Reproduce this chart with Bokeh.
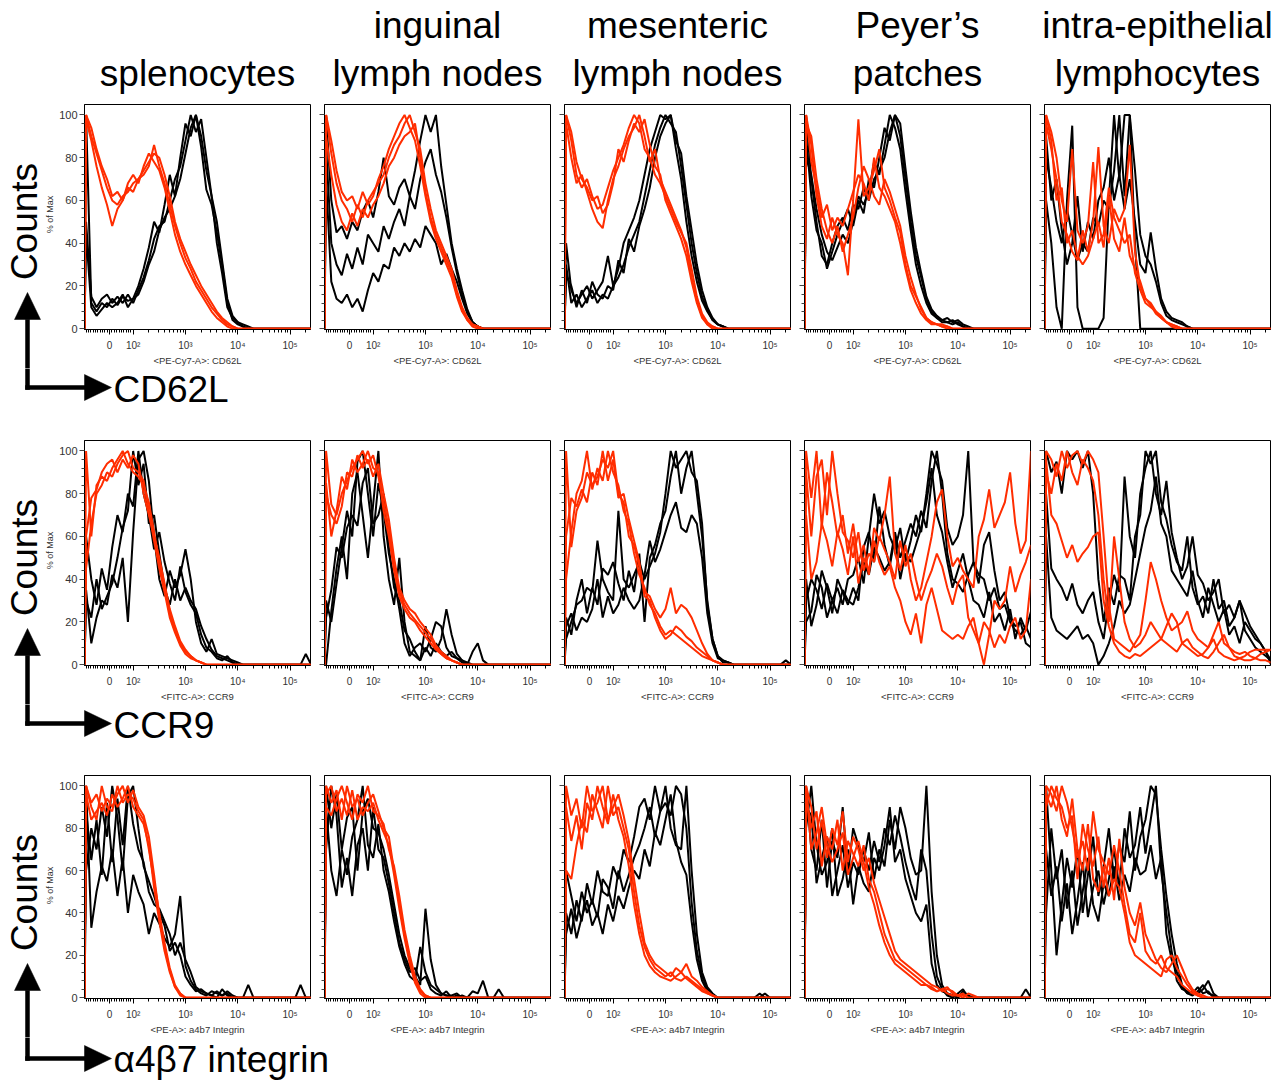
import math
from bokeh.plotting import figure
from bokeh.layouts import column, row
from bokeh.models import Range1d, FixedTicker
from bokeh.core.properties import value
from bokeh.embed import file_html
from bokeh.resources import INLINE

# ---------------------------------------------------------------- data
# histogram bin positions on the FlowJo biexponential display axis (decades)
U = [1.1, 1.2, 1.3, 1.4, 1.5, 1.6, 1.7, 1.8, 1.9, 2.0,
     2.1, 2.2, 2.3, 2.4, 2.5, 2.6, 2.7, 2.8, 2.9, 3.0,
     3.1, 3.2, 3.3, 3.4, 3.5, 3.6, 3.7, 3.8, 3.9, 4.0,
     4.1, 4.2, 4.3, 4.4, 4.5, 4.6, 4.7, 4.8, 4.9, 5.0,
     5.1, 5.2, 5.3, 5.4]
U_EDGE = 1.07
X_RANGE = (1.07, 5.39)
Y_RANGE = (-0.4, 104.9)

TISSUES = [["splenocytes"], ["inguinal", "lymph nodes"], ["mesenteric", "lymph nodes"],
           ["Peyer\u2019s", "patches"], ["intra-epithelial", "lymphocytes"]]
MARKERS = ["CD62L", "CCR9", "\u03b14\u03b27 integrin"]
CHANNELS = ["<PE-Cy7-A>: CD62L", "<FITC-A>: CCR9", "<PE-A>: a4b7 Integrin"]
Y_LABEL = "% of Max"
ROW_LABEL = "Counts"
X_TICKS = [1.55, 2.0, 3.0, 4.0, 5.0]
X_TICK_LABELS = ["0", "10\u00b2", "10\u00b3", "10\u2074", "10\u2075"]
Y_TICKS = [0, 20, 40, 60, 80, 100]

# ---- CD62L
CD62L_SPL_BLACK = [
    [100,12,8,12,10,14,11,15,13,14, 20,28,38,50,45,58,72,62,80,96, 90,100,85,65,58,45,30,12,4,2, 1,0,0,0,0,0,0,0,0,0,0,0,0,0],
    [50,15,10,14,16,12,15,12,16,12, 18,24,32,42,48,50,60,70,76,88, 100,92,98,80,62,50,32,14,6,3, 2,1,0,0,0,0,0,0,0,0,0,0,0,0],
    [45,10,6,9,12,10,12,16,10,14, 16,22,30,36,46,52,56,62,70,82, 94,100,90,74,62,40,26,10,5,3, 1,0,0,0,0,0,0,0,0,0,0,0,0,0],
]
CD62L_SPL_RED = [
    [100,90,82,74,66,60,58,62,64,68, 70,74,78,82,80,72,62,50,42,36, 30,25,20,16,12,8,5,3,1,0, 0,0,0,0,0,0,0,0,0,0,0,0,0,0],
    [98,88,76,66,58,48,56,60,66,64, 70,72,76,86,76,68,58,48,40,33, 28,22,18,14,10,7,4,2,1,0, 0,0,0,0,0,0,0,0,0,0,0,0,0,0],
    [100,94,84,76,70,62,64,60,68,72, 68,76,82,78,74,66,55,44,36,30, 25,20,16,12,8,5,3,1,0,0, 0,0,0,0,0,0,0,0,0,0,0,0,0,0],
]
CD62L_ILN_BLACK = [
    [100,60,45,48,42,50,46,55,60,52, 64,80,62,58,66,70,62,74,88,100, 92,100,76,58,40,28,18,9,3,1, 0,0,0,0,0,0,0,0,0,0,0,0,0,0],
    [85,40,30,25,35,28,38,30,44,40, 36,48,42,50,56,48,62,56,70,78, 84,72,64,52,38,26,16,8,3,1, 0,0,0,0,0,0,0,0,0,0,0,0,0,0],
    [70,22,14,12,16,10,14,8,18,26, 22,30,28,38,34,40,36,42,38,48, 44,40,30,35,28,22,14,7,3,1, 0,0,0,0,0,0,0,0,0,0,0,0,0,0],
]
CD62L_ILN_RED = [
    [100,82,68,60,56,50,58,52,60,64, 68,72,80,86,90,96,100,92,84,68, 56,46,40,34,28,18,10,5,2,1, 0,0,0,0,0,0,0,0,0,0,0,0,0,0],
    [90,72,58,50,46,54,48,56,52,58, 62,68,76,80,86,90,92,96,80,64, 52,44,38,32,26,16,9,4,2,1, 0,0,0,0,0,0,0,0,0,0,0,0,0,0],
    [100,88,74,64,60,62,56,64,58,62, 70,76,84,90,96,100,94,88,76,62, 50,42,36,30,24,15,8,4,1,0, 0,0,0,0,0,0,0,0,0,0,0,0,0,0],
]
CD62L_MLN_BLACK = [
    [40,18,12,16,20,14,18,22,34,20, 28,40,46,52,60,72,84,92,100,98, 100,84,70,50,34,22,13,8,4,2, 1,0,0,0,0,0,0,0,0,0,0,0,0,0],
    [30,12,16,10,14,18,12,16,14,20, 24,30,38,44,50,62,74,86,94,100, 96,92,76,58,40,26,15,9,4,2, 1,0,0,0,0,0,0,0,0,0,0,0,0,0],
    [25,20,10,18,12,22,16,14,20,18, 32,26,42,36,48,56,66,80,90,96, 100,88,82,62,46,30,18,10,5,2, 1,0,0,0,0,0,0,0,0,0,0,0,0,0],
]
CD62L_MLN_RED = [
    [100,88,72,66,70,62,56,58,66,74, 80,86,94,100,96,84,80,72,68,62, 56,50,45,40,28,15,7,3,1,0, 0,0,0,0,0,0,0,0,0,0,0,0,0,0],
    [96,80,68,72,64,56,50,47,60,70, 76,84,90,94,100,90,78,84,70,64, 58,52,46,38,24,13,6,2,1,0, 0,0,0,0,0,0,0,0,0,0,0,0,0,0],
    [100,92,78,70,66,60,62,54,58,68, 84,78,88,96,92,98,86,76,72,60, 54,48,42,34,22,12,5,2,0,0, 0,0,0,0,0,0,0,0,0,0,0,0,0,0],
]
CD62L_PP_BLACK = [
    [100,70,50,34,30,40,48,52,46,58, 56,66,60,70,74,80,92,100,96,75, 55,38,26,15,9,6,4,5,3,4, 2,1,0,0,0,0,0,0,0,0,0,0,0,0],
    [90,62,46,40,28,36,44,50,56,48, 60,54,70,66,80,94,88,100,90,70, 50,34,24,14,8,5,4,3,2,3, 1,0,0,0,0,0,0,0,0,0,0,0,0,0],
    [80,72,56,44,36,32,38,44,40,50, 62,58,64,78,72,86,100,94,84,64, 46,30,20,12,7,5,3,3,4,2, 1,0,0,0,0,0,0,0,0,0,0,0,0,0],
]
CD62L_PP_RED = [
    [100,86,62,48,42,52,44,40,25,60, 98,62,66,74,84,66,60,52,45,30, 20,15,10,5,3,2,2,1,0,0, 0,0,0,0,0,0,0,0,0,0,0,0,0,0],
    [96,90,70,56,46,40,48,36,44,52, 66,76,70,62,58,70,64,56,48,34, 24,16,9,5,3,2,1,1,0,0, 0,0,0,0,0,0,0,0,0,0,0,0,0,0],
    [100,78,66,52,58,46,52,48,56,64, 72,68,60,80,66,62,56,50,40,28, 18,12,7,4,2,2,1,0,0,0, 0,0,0,0,0,0,0,0,0,0,0,0,0,0],
]
CD62L_IEL_BLACK = [
    [60,40,10,0,60,95,10,0,0,0, 0,5,60,100,70,100,100,40,0,0, 0,0,0,0,0,0,0,0,0,0, 0,0,0,0,0,0,0,0,0,0,0,0,0,0],
    [90,60,70,46,30,40,62,36,50,42, 60,66,80,60,72,56,70,50,30,26, 45,28,14,8,5,4,3,1,0,0, 0,0,0,0,0,0,0,0,0,0,0,0,0,0],
    [80,66,50,40,56,44,32,40,36,52, 48,60,56,74,100,62,100,74,44,34, 30,22,12,6,4,3,2,1,0,0, 0,0,0,0,0,0,0,0,0,0,0,0,0,0],
]
CD62L_IEL_RED = [
    [100,92,80,60,50,84,46,40,48,78, 40,44,66,52,46,40,44,26,18,12, 10,8,5,3,2,1,0,0,0,0, 0,0,0,0,0,0,0,0,0,0,0,0,0,0],
    [96,84,70,50,44,36,32,46,36,50, 85,48,40,56,50,56,86,36,20,14, 11,7,5,3,1,0,0,0,0,0, 0,0,0,0,0,0,0,0,0,0,0,0,0,0],
    [100,88,60,66,40,46,34,30,34,42, 50,38,62,42,36,52,34,28,22,14, 12,8,6,3,2,1,0,0,0,0, 0,0,0,0,0,0,0,0,0,0,0,0,0,0],
]

# ---- CCR9
CCR9_SPL_BLACK = [
    [35,10,22,30,28,42,36,50,20,62, 96,100,86,60,40,32,44,36,42,54, 40,20,10,6,12,5,4,3,2,1, 0,0,0,0,0,0,0,0,0,0,0,0,5,0],
    [60,40,28,45,35,55,70,62,80,74, 100,80,70,54,62,48,38,30,46,34, 28,24,14,8,6,3,2,4,1,0, 0,0,0,0,0,0,0,0,0,0,0,0,0,0],
    [30,22,40,26,32,38,50,64,72,100, 84,94,66,70,52,36,28,40,30,36, 30,26,18,12,7,4,3,2,1,0, 0,0,0,0,0,0,0,0,0,0,0,0,0,0],
]
CCR9_SPL_RED = [
    [100,60,84,88,86,92,96,100,94,90, 88,84,76,62,48,36,24,16,10,6, 4,2,1,0,0,0,0,0,0,0, 0,0,0,0,0,0,0,0,0,0,0,0,0,0],
    [45,66,80,84,90,88,94,98,100,92, 90,86,72,58,45,34,22,15,9,5, 3,2,1,0,0,0,0,0,0,0, 0,0,0,0,0,0,0,0,0,0,0,0,0,0],
    [60,78,82,90,94,96,90,96,92,98, 94,80,70,60,50,38,26,18,11,7, 4,2,1,0,0,0,0,0,0,0, 0,0,0,0,0,0,0,0,0,0,0,0,0,0],
]
CCR9_ILN_BLACK = [
    [0,25,45,60,40,80,90,70,50,75, 100,60,40,28,50,20,6,4,2,18, 8,6,12,26,14,5,2,0,6,10, 2,0,0,0,0,0,0,0,0,0,0,0,0,0],
    [30,20,38,55,72,60,95,100,80,60, 85,72,52,40,26,10,4,8,10,6, 12,20,18,8,4,3,1,0,0,0, 0,0,0,0,0,0,0,0,0,0,0,0,0,0],
    [22,35,55,50,64,70,65,85,92,66, 70,80,55,36,30,16,12,6,2,8, 4,10,6,4,6,3,2,1,0,0, 0,0,0,0,0,0,0,0,0,0,0,0,0,0],
]
CCR9_ILN_RED = [
    [100,75,70,80,86,92,96,100,94,98, 88,76,64,46,34,28,24,21,18,15, 12,8,5,3,2,1,0,0,0,0, 0,0,0,0,0,0,0,0,0,0,0,0,0,0],
    [85,60,72,88,82,96,90,94,100,92, 90,72,60,44,32,26,22,20,16,13, 10,7,5,3,2,1,0,0,0,0, 0,0,0,0,0,0,0,0,0,0,0,0,0,0],
    [80,70,66,74,90,88,98,92,96,88, 94,80,68,50,36,30,26,24,20,17, 14,9,6,4,2,1,0,0,0,0, 0,0,0,0,0,0,0,0,0,0,0,0,0,0],
]
CCR9_MLN_BLACK = [
    [12,20,28,30,36,34,58,40,34,30, 72,40,36,42,48,40,46,52,62,80, 100,92,96,100,90,86,66,28,12,4, 2,1,0,0,0,0,0,0,0,0,0,0,2,0],
    [22,14,30,40,24,36,28,45,42,48, 38,30,44,34,52,20,50,56,66,72, 88,100,80,92,100,80,60,30,12,4, 1,1,0,0,0,0,0,0,0,0,0,0,0,0],
    [18,24,16,22,20,26,40,22,32,24, 28,36,30,26,30,42,58,48,54,62, 70,76,64,62,70,66,50,24,10,3, 2,1,0,0,0,0,0,0,0,0,0,0,0,0],
]
CCR9_MLN_RED = [
    [100,55,72,78,90,84,88,96,92,100, 80,76,60,56,46,34,32,26,22,26, 36,24,28,26,22,16,10,5,2,1, 0,0,0,0,0,0,0,0,0,0,0,0,0,0],
    [40,62,80,86,100,82,92,86,100,90, 84,72,66,52,42,36,28,24,18,14, 16,14,12,10,8,6,4,3,2,1, 0,0,0,0,0,0,0,0,0,0,0,0,0,0],
    [60,78,74,82,76,90,84,100,86,96, 78,80,68,58,48,32,30,22,16,12, 14,18,16,13,11,8,6,4,2,1, 0,0,0,0,0,0,0,0,0,0,0,0,0,0],
]
CCR9_PP_BLACK = [
    [30,40,35,26,38,30,36,28,40,42, 50,38,60,80,66,72,60,54,64,48, 58,70,62,80,100,94,86,64,56,60, 70,100,48,42,40,30,36,26,28,20, 16,14,18,12],
    [20,25,42,36,22,30,24,35,30,28, 36,48,42,55,50,44,48,62,50,58, 66,60,72,64,86,100,80,52,40,38, 34,42,48,38,56,62,44,30,34,22, 18,20,10,8],
    [40,18,28,44,36,24,40,34,28,36, 30,55,62,48,74,56,46,60,40,52, 48,56,64,76,92,70,62,48,36,44, 52,40,30,28,22,34,20,24,16,26, 12,22,16,25],
]
CCR9_PP_RED = [
    [100,78,100,64,90,76,60,70,52,66, 48,56,42,64,58,70,88,52,44,56, 40,30,36,48,60,76,82,60,46,50, 44,40,36,60,68,82,64,70,76,90, 66,52,58,100],
    [90,60,88,96,70,100,80,62,58,50, 62,44,52,48,60,54,48,40,58,46, 52,40,30,38,44,52,46,36,28,38, 42,22,16,10,0,14,30,26,30,46, 34,42,48,56],
    [70,40,48,66,58,46,62,54,42,60, 38,50,44,58,48,42,46,36,30,20, 14,24,10,28,36,26,16,14,12,14, 12,18,22,10,20,16,8,14,10,18, 22,12,16,40],
]
CCR9_IEL_BLACK = [
    [100,90,95,80,100,96,100,92,100,80, 40,20,36,28,42,40,30,60,70,100, 94,100,76,68,56,48,44,60,36,28, 32,24,40,26,30,18,22,30,16,12, 8,6,4,2],
    [60,22,16,14,12,15,18,12,14,10, 0,4,10,18,30,24,28,40,52,64, 72,88,66,60,44,40,36,32,44,30, 22,36,28,20,26,14,18,10,20,16, 12,10,6,0],
    [80,45,40,36,30,38,28,24,30,34, 20,12,30,42,34,88,60,50,80,92, 100,80,70,86,62,50,40,46,60,42, 38,30,34,40,24,28,22,30,24,18, 14,10,6,2],
]
CCR9_IEL_RED = [
    [100,96,88,100,92,98,100,94,100,96, 90,60,28,12,10,8,6,10,14,30, 48,40,30,22,16,18,20,25,16,12, 10,8,14,20,10,8,6,5,6,4, 3,5,6,7],
    [90,80,94,86,100,90,84,96,92,86, 70,40,20,60,40,20,12,8,10,14, 20,16,12,10,8,6,10,8,6,4, 5,8,12,6,4,3,2,3,4,6, 7,7,7,7],
    [96,70,66,58,50,56,48,52,55,60, 62,30,18,10,6,4,3,5,4,6, 8,10,12,18,24,20,10,12,8,6, 4,3,6,10,14,8,4,3,2,2, 3,2,2,1],
]

# ---- alpha4 beta7 integrin
A4B7_SPL_BLACK = [
    [100,33,50,62,55,70,48,66,40,58, 50,44,30,40,35,28,24,30,48,15, 8,4,2,1,3,2,1,3,1,0, 0,6,0,0,0,0,0,0,0,0,0,6,0,0],
    [60,80,70,90,76,100,85,60,95,100, 80,62,55,48,40,34,22,26,20,10, 6,3,4,2,1,0,4,1,0,0, 0,0,0,0,0,0,0,0,0,0,0,0,0,0],
    [88,65,84,58,92,64,94,72,100,82, 70,64,50,44,42,36,30,20,26,18, 12,5,3,2,1,3,1,2,0,0, 0,0,0,0,0,0,0,0,0,0,0,0,0,0],
]
A4B7_SPL_RED = [
    [100,92,96,88,94,90,96,100,92,98, 90,86,76,58,38,24,13,5,2,0, 0,0,0,0,0,0,0,0,0,0, 0,0,0,0,0,0,0,0,0,0,0,0,0,0],
    [96,84,88,92,86,96,90,94,100,90, 86,82,72,52,36,22,12,5,1,0, 0,0,0,0,0,0,0,0,0,0, 0,0,0,0,0,0,0,0,0,0,0,0,0,0],
    [100,90,84,100,90,88,100,92,96,94, 88,84,70,55,40,26,14,6,2,0, 0,0,0,0,0,0,0,0,0,0, 0,0,0,0,0,0,0,0,0,0,0,0,0,0],
]
A4B7_ILN_BLACK = [
    [100,80,96,70,85,90,60,88,94,80, 78,70,58,44,30,20,14,10,6,42, 18,6,2,1,0,0,1,0,3,2, 8,0,0,4,0,0,0,0,0,0,0,0,0,0],
    [90,60,48,70,58,76,84,100,72,66, 82,60,50,36,24,16,10,8,24,12, 6,4,2,1,1,2,0,0,0,0, 0,0,0,0,0,0,0,0,0,0,0,0,0,0],
    [70,100,86,52,66,48,72,80,60,90, 70,66,54,40,26,18,12,14,8,10, 4,2,1,3,0,1,0,0,0,0, 0,0,0,0,0,0,0,0,0,0,0,0,0,0],
]
A4B7_ILN_RED = [
    [100,92,98,84,100,90,94,86,92,96, 88,80,76,60,45,30,18,8,3,1, 0,0,0,0,0,0,0,0,0,0, 0,0,0,0,0,0,0,0,0,0,0,0,0,0],
    [96,100,88,94,86,98,84,90,88,92, 84,78,72,58,42,28,16,7,2,0, 0,0,0,0,0,0,0,0,0,0, 0,0,0,0,0,0,0,0,0,0,0,0,0,0],
    [90,86,94,100,92,84,96,92,100,88, 86,82,70,62,48,32,20,10,4,1, 0,0,0,0,0,0,0,0,0,0, 0,0,0,0,0,0,0,0,0,0,0,0,0,0],
]
A4B7_MLN_BLACK = [
    [40,30,46,36,54,44,60,50,48,62, 56,70,64,76,90,94,84,100,88,92, 86,100,96,80,45,22,10,4,1,0, 0,0,0,0,0,0,0,2,0,0,0,0,0,0],
    [60,48,36,50,40,46,38,56,52,42, 60,50,58,66,72,80,90,76,88,100, 80,72,70,100,60,30,12,5,2,0, 0,0,0,0,0,0,0,0,2,0,0,0,0,0],
    [30,42,28,38,46,34,40,30,44,36, 48,42,52,60,56,70,62,78,72,84, 96,74,64,58,36,18,8,3,1,0, 0,0,0,0,0,0,0,0,0,0,0,0,0,0],
]
A4B7_MLN_RED = [
    [100,86,94,80,100,88,92,100,84,90, 96,86,74,56,40,26,20,16,14,12, 10,14,12,16,10,8,5,3,1,0, 0,0,0,0,0,0,0,0,0,0,0,0,0,0],
    [60,56,72,84,78,96,88,80,100,86, 90,80,70,50,34,24,18,14,12,10, 12,9,8,10,8,6,4,2,1,0, 0,0,0,0,0,0,0,0,0,0,0,0,0,0],
    [90,74,86,70,92,84,100,90,82,96, 84,76,62,44,30,20,15,12,10,9, 8,10,12,9,7,5,3,2,1,0, 0,0,0,0,0,0,0,0,0,0,0,0,0,0],
]
A4B7_PP_BLACK = [
    [100,70,60,84,52,74,66,90,58,80, 72,64,78,56,70,62,84,70,90,80, 66,58,60,100,50,20,6,2,1,0, 3,1,0,0,0,0,0,0,0,0,0,0,4,0],
    [90,86,54,66,76,48,60,72,52,64, 58,70,60,74,64,80,72,86,76,64, 54,46,70,60,30,10,4,1,0,2, 4,0,0,0,0,0,0,0,0,0,0,0,0,0],
    [80,100,72,58,64,80,48,56,70,44, 62,54,50,66,60,72,90,64,70,56, 48,40,36,44,16,6,3,2,1,0, 2,0,0,0,0,0,0,0,0,0,0,0,0,0],
]
A4B7_PP_RED = [
    [100,90,70,84,66,80,72,88,64,76, 70,60,66,54,46,38,30,22,18,16, 14,12,10,8,6,5,3,4,3,1, 0,2,1,0,0,0,0,0,0,0,0,0,0,0],
    [96,80,88,62,76,70,84,60,74,68, 62,72,56,50,40,30,24,18,16,14, 12,10,8,6,5,3,4,5,2,1, 1,0,0,0,0,0,0,0,0,0,0,0,0,0],
    [100,70,78,90,72,64,70,78,58,66, 74,64,52,44,34,26,20,16,14,12, 10,8,6,6,4,3,4,2,1,1, 2,0,0,0,0,0,0,0,0,0,0,0,0,0],
]
A4B7_IEL_BLACK = [
    [100,60,20,44,66,52,70,40,58,76, 48,62,80,56,72,64,88,60,76,84, 100,96,70,48,30,16,6,2,3,2, 4,8,2,0,0,0,0,0,0,0,0,0,0,0],
    [70,48,62,36,54,30,46,64,38,52, 60,44,56,70,52,80,66,72,90,68, 84,100,60,40,22,8,4,3,2,5, 2,3,0,0,0,0,0,0,0,0,0,0,0,0],
    [40,80,56,70,42,60,34,50,66,44, 36,54,48,62,46,58,50,66,58,60, 72,56,66,30,18,12,5,2,1,3, 6,2,1,0,0,0,0,0,0,0,0,0,0,0],
]
A4B7_IEL_RED = [
    [100,96,88,100,92,80,66,74,60,88, 70,64,58,72,60,44,30,26,40,22, 18,16,20,14,12,10,6,4,2,1, 0,0,0,0,0,0,0,0,0,0,0,0,0,0],
    [96,90,100,84,76,94,70,60,82,56, 50,62,48,56,52,40,26,20,18,16, 14,12,10,18,20,14,10,6,3,1, 0,0,0,0,0,0,0,0,0,0,0,0,0,0],
    [90,100,94,90,80,86,56,82,70,62, 76,52,66,46,75,52,40,34,45,30, 24,18,14,12,16,20,14,8,4,2, 1,0,0,0,0,0,0,0,0,0,0,0,0,0],
]

PANELS = [
    [(CD62L_SPL_BLACK, CD62L_SPL_RED), (CD62L_ILN_BLACK, CD62L_ILN_RED), (CD62L_MLN_BLACK, CD62L_MLN_RED),
     (CD62L_PP_BLACK, CD62L_PP_RED), (CD62L_IEL_BLACK, CD62L_IEL_RED)],
    [(CCR9_SPL_BLACK, CCR9_SPL_RED), (CCR9_ILN_BLACK, CCR9_ILN_RED), (CCR9_MLN_BLACK, CCR9_MLN_RED),
     (CCR9_PP_BLACK, CCR9_PP_RED), (CCR9_IEL_BLACK, CCR9_IEL_RED)],
    [(A4B7_SPL_BLACK, A4B7_SPL_RED), (A4B7_ILN_BLACK, A4B7_ILN_RED), (A4B7_MLN_BLACK, A4B7_MLN_RED),
     (A4B7_PP_BLACK, A4B7_PP_RED), (A4B7_IEL_BLACK, A4B7_IEL_RED)],
]

# ---------------------------------------------------------------- styling / layout
FONT = "Liberation Sans"
BLACK = "#000000"
RED = "#ff2d00"
FRAME_W, FRAME_H = 226, 226
LEFT_W = 54                 # strip left of column 1 ("Counts", "% of Max", arrow)
COL1_BORDER = 30            # y tick labels of column 1
TOPS = [4, 10, 10]          # top border of panel rows
BOTTOMS = [38, 38, 36]      # bottom border (x axis)
HEADER_H = 100
STRIP_H = [62, 61, 45]      # strips under each panel row (arrow + marker name)
ARROW_Y = [19, 19, 21]
MARKER_MID = [21, 21, 22]
TOTAL_W = LEFT_W + (COL1_BORDER + FRAME_W + 2) + 3 * 240 + 241
STEM_X = 27                 # x of the L-shaped arrow stem


def fit(vals):
    vals = list(vals)[:len(U)]
    return vals + [0] * (len(U) - len(vals))


def x_minor_ticks():
    t = []
    for v in range(-100, 100, 10):
        if v != 0:
            t.append(1.55 + 0.0045 * v)
    for k in (2, 3, 4):
        for m in range(2, 10):
            t.append(k + math.log10(m))
    t.append(5 + math.log10(2))
    return t


Y_MINOR = [v for v in range(0, 101, 4) if v % 20 != 0]


def deco_figure(w, h):
    """Plain drawing area in pixel units (y measured downward via helpers)."""
    p = figure(width=w, height=h, x_range=Range1d(0, w), y_range=Range1d(0, h),
               output_backend="svg", toolbar_location=None,
               x_axis_location=None, y_axis_location=None,
               min_border_left=0, min_border_right=0, min_border_top=0, min_border_bottom=0)
    try:
        p.frame_align = False
    except Exception:
        pass
    p.grid.visible = False
    p.outline_line_color = None
    p.background_fill_color = "white"
    p.border_fill_color = "white"
    return p


def txt(p, h, x, y_down, s, size, align="center", angle=0.0, color="black"):
    # y_down is the vertical centre of the em box, measured from the top
    p.text(x=[x], y=[h - y_down], text=[s], text_font=value(FONT),
           text_font_size=value(f"{size}px"), text_align=align,
           text_baseline="middle", angle=angle, text_color=color)


def shape(p, h, xs, ys_down):
    p.patch(xs, [h - y for y in ys_down], fill_color="black", line_color="black", line_width=0.5)


def make_panel(r, c):
    left = COL1_BORDER if c == 0 else 12
    right = 3 if c == 4 else 2
    p = figure(width=left + FRAME_W + right, height=TOPS[r] + FRAME_H + BOTTOMS[r],
               x_range=Range1d(*X_RANGE), y_range=Range1d(*Y_RANGE),
               output_backend="svg", toolbar_location=None,
               min_border_left=left, min_border_right=right,
               min_border_top=TOPS[r], min_border_bottom=BOTTOMS[r])
    p.grid.visible = False
    p.outline_line_color = "black"
    p.outline_line_width = 1
    p.background_fill_color = "white"
    p.border_fill_color = "white"

    xa = p.xaxis[0]
    xa.ticker = FixedTicker(ticks=X_TICKS, minor_ticks=x_minor_ticks())
    xa.major_label_overrides = dict(zip(X_TICKS, X_TICK_LABELS))
    xa.major_label_text_font = FONT
    xa.major_label_text_font_size = "10px"
    xa.major_label_text_color = "#333333"
    xa.major_label_standoff = 5
    xa.major_tick_out = 5
    xa.major_tick_in = 0
    xa.minor_tick_out = 3
    xa.minor_tick_in = 0
    xa.axis_line_color = "black"
    xa.major_tick_line_color = "black"
    xa.minor_tick_line_color = "black"
    xa.axis_label = CHANNELS[r]
    xa.axis_label_text_font = FONT
    xa.axis_label_text_font_size = "9.5px"
    xa.axis_label_text_font_style = "normal"
    xa.axis_label_text_color = "#333333"
    xa.axis_label_standoff = 1

    ya = p.yaxis[0]
    ya.ticker = FixedTicker(ticks=Y_TICKS, minor_ticks=Y_MINOR)
    ya.major_tick_out = 5
    ya.major_tick_in = 0
    ya.minor_tick_out = 3
    ya.minor_tick_in = 0
    ya.axis_line_color = "black"
    ya.major_tick_line_color = "#444444"
    ya.minor_tick_line_color = "#444444"
    ya.major_label_standoff = 2
    if c == 0:
        ya.major_label_text_font = FONT
        ya.major_label_text_font_size = "11px"
        ya.major_label_text_color = "#333333"
    else:
        ya.major_label_overrides = {v: "" for v in Y_TICKS}
        ya.major_label_text_font_size = "1px"

    black, red = PANELS[r][c]
    xs = [U_EDGE] + U
    for series in black:
        p.line(xs, [0] + fit(series), line_color=BLACK, line_width=2)
    for series in red:
        p.line(xs, [0] + fit(series), line_color=RED, line_width=2)
    return p


def make_left(r):
    h = TOPS[r] + FRAME_H + BOTTOMS[r]
    p = deco_figure(LEFT_W, h)
    fb = TOPS[r] + FRAME_H            # frame bottom, measured from top
    txt(p, h, 24, fb - 109, ROW_LABEL, 37, angle=math.pi / 2)
    txt(p, h, 49, fb - 116, Y_LABEL, 9, angle=math.pi / 2, color="#333333")
    # vertical arrow: head + stem down to the bottom of this strip
    shape(p, h, [STEM_X - 13, STEM_X + 13, STEM_X], [fb - 11, fb - 11, fb - 38])
    shape(p, h, [STEM_X - 2, STEM_X + 2, STEM_X + 2, STEM_X - 2], [fb - 11, fb - 11, h, h])
    return p


def make_strip(r):
    h = STRIP_H[r]
    p = deco_figure(TOTAL_W, h)
    ay = ARROW_Y[r]
    shape(p, h, [STEM_X - 2, STEM_X + 2, STEM_X + 2, STEM_X - 2], [0, 0, ay + 2, ay + 2])
    shape(p, h, [STEM_X - 2, 85, 85, STEM_X - 2], [ay - 2, ay - 2, ay + 2, ay + 2])
    shape(p, h, [84, 84, 111], [ay - 13, ay + 13, ay])
    txt(p, h, 113, MARKER_MID[r], MARKERS[r], 37, align="left")
    return p


def make_header():
    h = HEADER_H
    p = deco_figure(TOTAL_W, h)
    for c, lines in enumerate(TISSUES):
        cx = LEFT_W + COL1_BORDER + FRAME_W / 2 + 240 * c
        mids = [73] if len(lines) == 1 else [25, 73]
        for s, m in zip(lines, mids):
            txt(p, h, cx, m, s, 37)
    return p


items = [make_header()]
for r in range(3):
    items.append(row(make_left(r), *[make_panel(r, c) for c in range(5)]))
    items.append(make_strip(r))
layout = column(*items)

open("out.html", "w").write(file_html(layout, INLINE))
